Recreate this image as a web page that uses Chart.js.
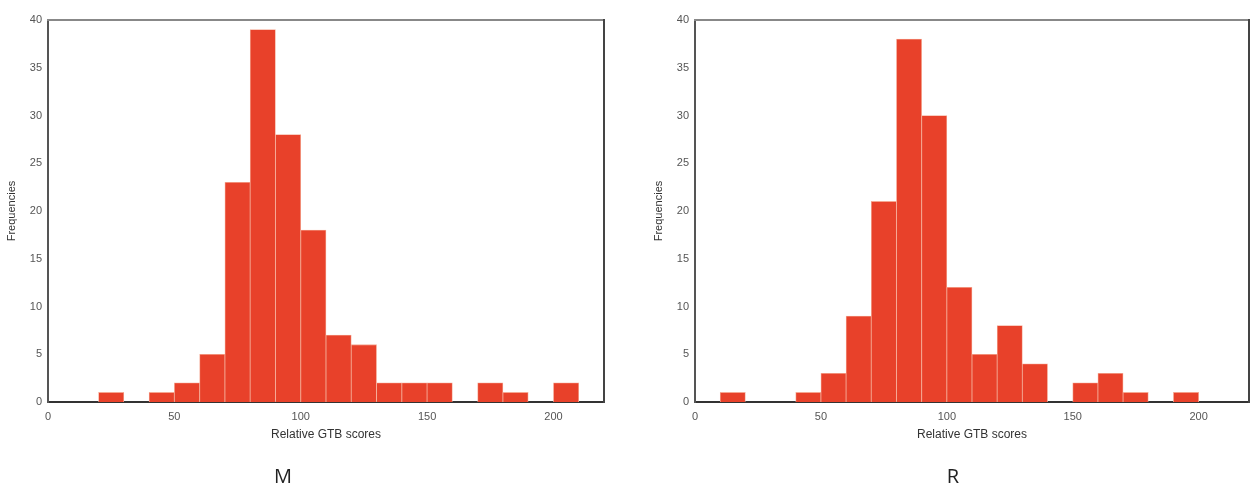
<!DOCTYPE html>
<html>
<head>
<meta charset="utf-8">
<script src="https://cdn.jsdelivr.net/npm/chart.js@4.4.0/dist/chart.umd.min.js"></script>
<style>
  body { margin: 0; background: #fff; }
  #wrap { position: relative; width: 1251px; height: 489px; background: #fff; }
  canvas { position: absolute; top: 0; }
  .tag { position: absolute; top: 462px; font: 20px "Open Sans", sans-serif; color: #222; transform: translateX(-50%); }
</style>
</head>
<body>
<div id="wrap">
  <canvas id="chart-m" width="606" height="489" style="left:0"></canvas>
  <canvas id="chart-r" width="604" height="489" style="left:647px"></canvas>
  <div class="tag" style="left:283px">M</div>
  <div class="tag" style="left:953px">R</div>
</div>
<script>
/* **** DATA **** */

// histogram bins, 10 wide, given by their start value
const binStarts = [0, 10, 20, 30, 40, 50, 60, 70, 80, 90, 100, 110, 120, 130, 140, 150, 160, 170, 180, 190, 200, 210];
const countsM = [0, 0, 1, 0, 1, 2, 5, 23, 39, 28, 18, 7, 6, 2, 2, 2, 0, 2, 1, 0, 2, 0];
const countsR = [0, 1, 0, 0, 1, 3, 9, 21, 38, 30, 12, 5, 8, 4, 0, 2, 3, 1, 0, 1, 0, 0];
const binWidth = 10;
const xTicks = [0, 50, 100, 150, 200];
const yTicks = [0, 5, 10, 15, 20, 25, 30, 35, 40];

/* **** MAIN **** */

const barColor = '#e8412a';
const tickFont = { family: '"Liberation Sans", Arial, sans-serif', size: 11 };

function makeHist(id, counts) {
    const points = binStarts.map((s, i) => ({ x: s + binWidth / 2, y: counts[i] }));
    return new Chart(document.getElementById(id), {
        type: 'bar',
        data: {
            datasets: [{
                label: 'Frequencies',
                data: points,
                backgroundColor: barColor,
                borderColor: '#f5a893',
                borderWidth: 0.8,
                barPercentage: 1,
                categoryPercentage: 1
            }]
        },
        options: {
            responsive: false,
            animation: false,
            layout: { padding: { top: 20, right: 2, bottom: 47, left: 0 } },
            plugins: { legend: { display: false }, tooltip: { enabled: false } },
            scales: {
                x: {
                    type: 'linear',
                    offset: false,
                    min: 0,
                    max: 220,
                    afterBuildTicks: s => { s.ticks = xTicks.map(v => ({ value: v })); },
                    afterFit: s => { s.height = 40; },
                    grid: { display: false, drawTicks: false, offset: false },
                    border: { color: '#333', width: 2 },
                    ticks: { font: tickFont, color: '#555', padding: 8, maxRotation: 0 },
                    title: {
                        display: true,
                        text: 'Relative GTB scores',
                        font: { family: '"Liberation Sans", Arial, sans-serif', size: 12 },
                        color: '#333',
                        padding: { top: 0, bottom: 0 }
                    }
                },
                y: {
                    min: 0,
                    max: 40,
                    afterBuildTicks: s => { s.ticks = yTicks.map(v => ({ value: v })); },
                    afterFit: s => { s.width = 48; },
                    grid: { display: false, drawTicks: false },
                    border: { color: '#555', width: 2 },
                    ticks: { font: tickFont, color: '#555', padding: 6 },
                    title: {
                        display: true,
                        text: 'Frequencies',
                        font: { family: '"Liberation Sans", Arial, sans-serif', size: 11 },
                        color: '#333',
                        padding: { top: 5, bottom: 0 }
                    }
                },
                x2: {
                    type: 'linear',
                    position: 'top',
                    offset: false,
                    grid: { display: false, drawTicks: false },
                    ticks: { display: false },
                    border: { color: '#888', width: 2 }
                },
                y2: {
                    type: 'linear',
                    position: 'right',
                    grid: { display: false, drawTicks: false },
                    ticks: { display: false },
                    border: { color: '#444', width: 2 }
                }
            }
        }
    });
}

const chartM = makeHist('chart-m', countsM);
const chartR = makeHist('chart-r', countsR);
</script>
</body>
</html>
